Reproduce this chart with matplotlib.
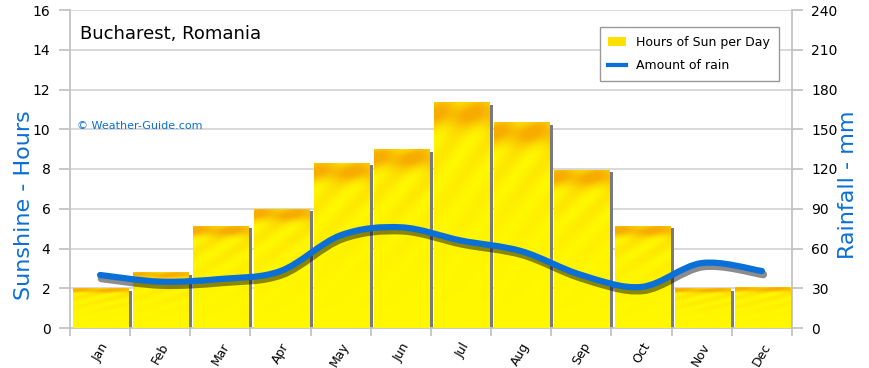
import numpy as np
import matplotlib
matplotlib.use('Agg')
import matplotlib.pyplot as plt
from matplotlib.path import Path
from matplotlib.patches import PathPatch, Patch
from matplotlib.lines import Line2D
import matplotlib.patheffects as pe

months = ['Jan', 'Feb', 'Mar', 'Apr', 'May', 'Jun',
          'Jul', 'Aug', 'Sep', 'Oct', 'Nov', 'Dec']
sun_hours = [2.0, 2.8, 5.15, 6.0, 8.3, 9.0, 11.35, 10.35, 7.95, 5.15, 2.0, 2.05]
rain_mm = [40, 35, 37, 43, 70, 76, 66, 58, 40, 31, 49, 43]
hour_ticks = list(range(0, 17, 2))
rain_ticks = list(range(0, 241, 30))

blue = '#0b6fd8'
grey = '#c4c4c4'

fig = plt.figure(figsize=(8.7, 3.68), dpi=100)
ax = fig.add_axes([70 / 870, 40 / 368, 722 / 870, 318 / 368])
ax2 = ax.twinx()

x = np.arange(len(months))
w = 0.915

# texture used to fill the sun bars (orange band at top, yellow below)
tex_rows = np.linspace(0, 1, 200)[:, None]
tex_cols = np.linspace(0, 1, 60)[None, :]
streak = 0.5 + 0.5 * np.sin((tex_rows * 9 + tex_cols * 3) * np.pi)
orange = np.exp(-((tex_rows - 0.05) / 0.06) ** 2) * 0.8 + 0.35 * streak * (1 - tex_rows) ** 2
orange = np.clip(orange, 0, 1)
c_yel = np.array([1.0, 0.97, 0.0])
c_org = np.array([0.97, 0.68, 0.0])
texture = c_yel * (1 - orange[..., None]) + c_org * orange[..., None]

# shadows behind the bars
ax.bar(x + 0.075, np.array(sun_hours) - 0.12, width=w, color='#7a7a7a',
       zorder=2, align='center')
bars = ax.bar(x + 0.01, sun_hours, width=w, color='#fff200', zorder=3)
for b in bars:
    x0, y0 = b.get_x(), b.get_y()
    im = ax.imshow(texture, extent=[x0, x0 + b.get_width(), y0, y0 + b.get_height()],
                   aspect='auto', zorder=3.5, interpolation='bilinear')
    im.set_clip_path(b)

ax.set_xlim(-0.5, 11.5)
ax.set_ylim(0, 16)
ax.set_yticks(hour_ticks)
ax.yaxis.grid(True, color='#d6d6d6', lw=1.3, zorder=0)
ax.set_axisbelow(True)
ax.set_xticks(np.arange(-0.5, 12, 1))
ax.set_xticklabels([])
ax.set_xticks(x, minor=True)
ax.set_xticklabels(months, minor=True, rotation=60, ha='right', va='top',
                   rotation_mode='anchor', fontsize=9)
ax.tick_params(axis='x', which='minor', length=0, pad=9)
ax.tick_params(axis='x', which='major', length=6, color=grey, width=1.3)
ax.tick_params(axis='y', length=8, color=grey, width=1.3, labelsize=10, pad=6)
for s in ['left', 'bottom']:
    ax.spines[s].set_color(grey)
    ax.spines[s].set_linewidth(1.3)
ax.spines['top'].set_visible(False)
ax.spines['right'].set_visible(False)

# smooth rain curve through the monthly values
pts = np.column_stack([x, rain_mm]).astype(float)
ext = np.vstack([pts[0], pts, pts[-1]])
verts = [tuple(pts[0])]
codes = [Path.MOVETO]
for i in range(len(pts) - 1):
    p0, p1, p2, p3 = ext[i], ext[i + 1], ext[i + 2], ext[i + 3]
    verts += [tuple(p1 + (p2 - p0) / 6), tuple(p2 - (p3 - p1) / 6), tuple(p2)]
    codes += [Path.CURVE4] * 3
curve = PathPatch(Path(verts, codes), fill=False, edgecolor=blue, lw=4.5,
                  capstyle='round', zorder=5)
curve.set_path_effects([pe.SimpleLineShadow(offset=(1, -2.5), shadow_color='black',
                                            alpha=0.45, linewidth=5.5),
                        pe.Normal()])
ax2.add_patch(curve)

ax2.set_ylim(0, 240)
ax2.set_yticks(rain_ticks)
ax2.tick_params(axis='y', length=8, color=grey, width=1.3, labelsize=10, pad=6)
for s in ['left', 'bottom', 'top']:
    ax2.spines[s].set_visible(False)
ax2.spines['right'].set_color(grey)
ax2.spines['right'].set_linewidth(1.3)

fig.text(24 / 870, 1 - 205 / 368, 'Sunshine - Hours', color=blue, fontsize=16,
         rotation=90, ha='center', va='center')
fig.text(848 / 870, 1 - 185 / 368, 'Rainfall - mm', color=blue, fontsize=16,
         rotation=90, ha='center', va='center')

ax.text(0.014, 0.925, 'Bucharest, Romania', transform=ax.transAxes,
        fontsize=13, va='center', ha='left')
ax.text(0.01, 0.635, '\u00a9 Weather-Guide.com', transform=ax.transAxes,
        fontsize=8, color=blue, va='center', ha='left')

handles = [Patch(facecolor='#ffe000', edgecolor='none'),
           Line2D([0], [0], color=blue, lw=3)]
leg = ax2.legend(handles, ['Hours of Sun per Day', 'Amount of rain'],
                 loc='upper right', bbox_to_anchor=(0.99, 0.965), fontsize=9,
                 fancybox=False, framealpha=1, edgecolor='#999999',
                 handlelength=1.4, borderpad=0.7, labelspacing=0.8)
leg.get_frame().set_linewidth(1)

fig.savefig('out.png', dpi=100)
